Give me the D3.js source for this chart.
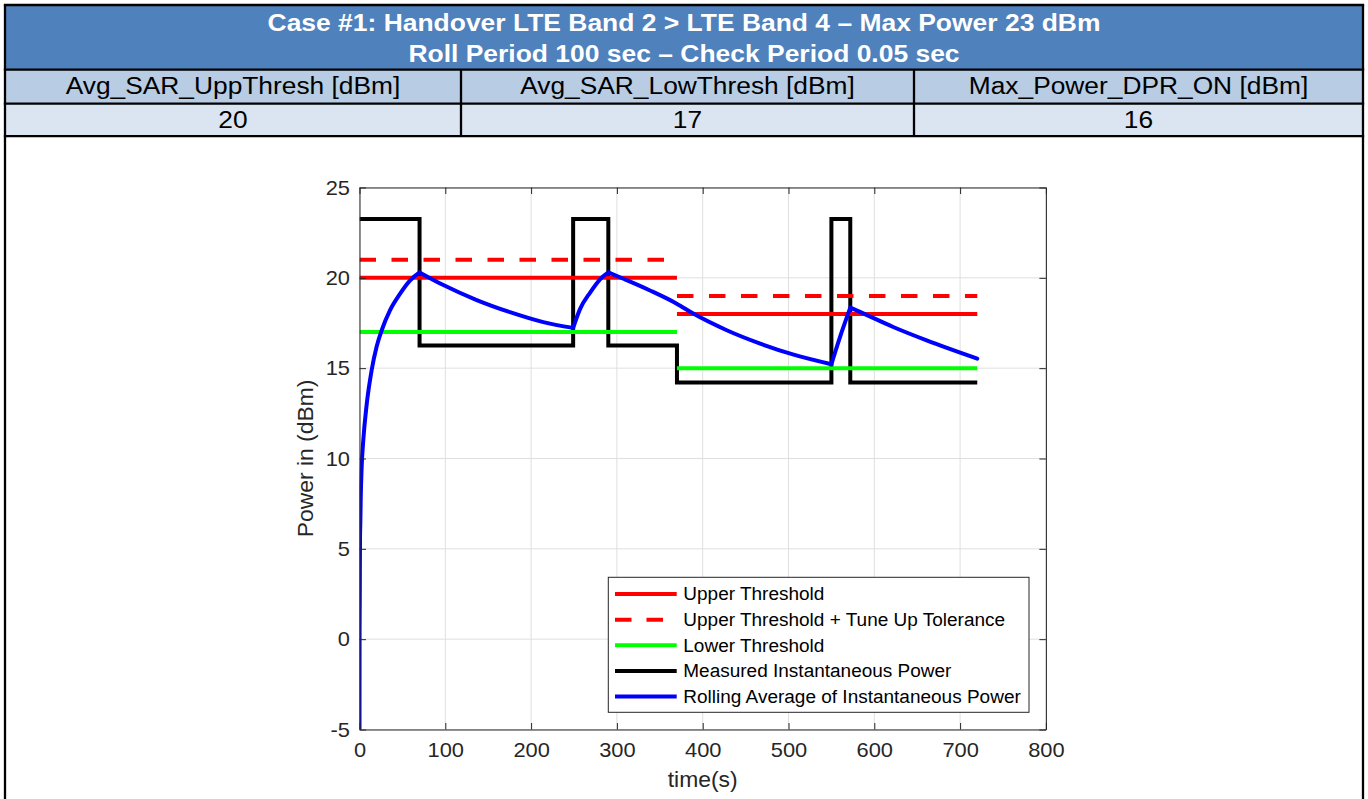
<!DOCTYPE html>
<html><head><meta charset="utf-8">
<script src="https://cdn.jsdelivr.net/npm/d3@7"></script>
<style>html,body{margin:0;padding:0;background:#fff;overflow:hidden}</style>
</head><body>
<svg id="c" width="1368" height="799"></svg>
<script>
// ---------- data ----------
const titleLines = ["Case #1: Handover LTE Band 2 > LTE Band 4 \u2013 Max Power 23 dBm",
                    "Roll Period 100 sec \u2013 Check Period 0.05 sec"];
const paramNames = ["Avg_SAR_UppThresh [dBm]", "Avg_SAR_LowThresh [dBm]", "Max_Power_DPR_ON [dBm]"];
const paramValues = ["20", "17", "16"];

const thrStart = [0, 370];
const thrEnd = [370, 720];
const upperThr = [20, 18];
const tuneUpThr = [21, 19];
const lowerThr = [17, 15];

const stepTime  = [0, 70, 249, 290, 370, 550, 572, 720];
const stepPower = [23.25, 16.25, 23.25, 16.25, 14.2, 23.25, 14.2, 14.2];

const avgTime  = [0, 0.1, 0.3, 0.6, 1.0, 1.4, 2.5, 4.4, 8.4, 14.2, 20, 25.9, 35.5, 47, 59, 70,
                  97.7, 136.6, 175.4, 214.2, 249,
                  257, 269, 280.4, 290,
                  307.5, 338.6, 369.7, 389, 428, 467, 506, 550,
                  560, 572,
                  584, 622, 661, 720];
const avgPower = [-5, 0.5, 2, 5.5, 6.5, 7.7, 9.5, 11, 13, 14.9, 16.2, 17.1, 18.2, 19.1, 19.86, 20.3,
                  19.6, 18.77, 18.1, 17.55, 17.23,
                  18.27, 19.2, 19.92, 20.3,
                  19.95, 19.3, 18.57, 18.02, 17.1, 16.36, 15.75, 15.22,
                  16.72, 18.35,
                  18.1, 17.28, 16.54, 15.53];

const timeTicks  = [0, 100, 200, 300, 400, 500, 600, 700, 800];
const powerTicks = [-5, 0, 5, 10, 15, 20, 25];
const legendLabels = ["Upper Threshold", "Upper Threshold + Tune Up Tolerance", "Lower Threshold",
                      "Measured Instantaneous Power", "Rolling Average of Instantaneous Power"];

// ---------- helpers ----------
const svg = d3.select("#c");
const FONT = "'Liberation Sans', Arial, Helvetica, sans-serif";
function stretch(sel, f) {
  sel.each(function () {
    const w = this.getComputedTextLength();
    this.setAttribute("textLength", w * f);
    this.setAttribute("lengthAdjust", "spacingAndGlyphs");
  });
}

// ---------- table ----------
const colX = [5, 461, 914, 1363];
const rowY = [5, 69.7, 103.7, 136.2];
const tbl = svg.append("g");
tbl.append("rect").attr("x", colX[0]).attr("y", rowY[0]).attr("width", colX[3] - colX[0]).attr("height", rowY[1] - rowY[0]).attr("fill", "#4f81bd");
tbl.append("rect").attr("x", colX[0]).attr("y", rowY[1]).attr("width", colX[3] - colX[0]).attr("height", rowY[2] - rowY[1]).attr("fill", "#b8cce4");
tbl.append("rect").attr("x", colX[0]).attr("y", rowY[2]).attr("width", colX[3] - colX[0]).attr("height", rowY[3] - rowY[2]).attr("fill", "#dbe5f1");

const tt = tbl.selectAll("text.title").data(titleLines).join("text")
  .attr("x", (colX[0] + colX[3]) / 2).attr("y", (d, i) => 30.7 + i * 31)
  .attr("text-anchor", "middle").attr("font-family", FONT).attr("font-weight", "bold")
  .attr("font-size", 23.3).attr("fill", "#fff").text(d => d);
stretch(tt, 1.135);

const pn = tbl.selectAll("text.pn").data(paramNames).join("text")
  .attr("x", (d, i) => (colX[i] + colX[i + 1]) / 2).attr("y", 94.3)
  .attr("text-anchor", "middle").attr("font-family", FONT).attr("font-size", 23.3).attr("fill", "#000").text(d => d);
stretch(pn, 1.13);
const pv = tbl.selectAll("text.pv").data(paramValues).join("text")
  .attr("x", (d, i) => (colX[i] + colX[i + 1]) / 2).attr("y", 128.4)
  .attr("text-anchor", "middle").attr("font-family", FONT).attr("font-size", 23.3).attr("fill", "#000").text(d => d);
stretch(pv, 1.13);

// borders
const bw = 2.3;
rowY.forEach(yy => tbl.append("line").attr("x1", colX[0] - bw / 2).attr("x2", colX[3] + bw / 2).attr("y1", yy).attr("y2", yy).attr("stroke", "#000").attr("stroke-width", bw));
[colX[0], colX[3]].forEach(xx => tbl.append("line").attr("x1", xx).attr("x2", xx).attr("y1", rowY[0]).attr("y2", 800).attr("stroke", "#000").attr("stroke-width", bw));
[colX[1], colX[2]].forEach(xx => tbl.append("line").attr("x1", xx).attr("x2", xx).attr("y1", rowY[1]).attr("y2", rowY[3]).attr("stroke", "#000").attr("stroke-width", bw));

// ---------- chart ----------
const x = d3.scaleLinear().domain([0, 800]).range([359.5, 1045.9]);
const y = d3.scaleLinear().domain([-5, 25]).range([729.5, 187.5]);
const AX = "#262626";

const g = svg.append("g");
g.append("rect").attr("x", x(0)).attr("y", y(25)).attr("width", x(800) - x(0)).attr("height", y(-5) - y(25)).attr("fill", "#fff");

// grid
g.append("g").selectAll("line").data(timeTicks).join("line")
  .attr("x1", d => x(d)).attr("x2", d => x(d)).attr("y1", y(-5)).attr("y2", y(25))
  .attr("stroke", "#dfdfdf").attr("stroke-width", 1);
g.append("g").selectAll("line").data(powerTicks).join("line")
  .attr("y1", d => y(d)).attr("y2", d => y(d)).attr("x1", x(0)).attr("x2", x(800))
  .attr("stroke", "#dfdfdf").attr("stroke-width", 1);

// clip
svg.append("defs").append("clipPath").attr("id", "clip").append("rect")
  .attr("x", x(0)).attr("y", y(25)).attr("width", x(800) - x(0)).attr("height", y(-5) - y(25));
const plot = g.append("g").attr("clip-path", "url(#clip)");

// measured instantaneous power (black)
const stepLine = d3.line().x(d => x(d[0])).y(d => y(d[1])).curve(d3.curveStepAfter);
plot.append("path").datum(stepTime.map((t, i) => [t, stepPower[i]]))
  .attr("d", stepLine).attr("fill", "none").attr("stroke", "#000").attr("stroke-width", 4);

// thresholds
const segLine = d3.line().x(d => x(d[0])).y(d => y(d[1]));
function thr(values, color, dash) {
  values.forEach((v, i) => {
    plot.append("path").datum([[thrStart[i], v], [thrEnd[i], v]])
      .attr("d", segLine).attr("fill", "none").attr("stroke", color).attr("stroke-width", 4)
      .attr("stroke-dasharray", dash || null);
  });
}
thr(upperThr, "#ff0000");
thr(tuneUpThr, "#ff0000", "16.5,15.5");
thr(lowerThr, "#00ff00");

// rolling average (blue) - split into monotone pieces
const pts = avgTime.map((t, i) => [t, avgPower[i]]);
const segs = [];
let cur = [pts[0]];
for (let i = 1; i < pts.length; i++) {
  cur.push(pts[i]);
  if (i < pts.length - 1) {
    const s1 = Math.sign(pts[i][1] - pts[i - 1][1]);
    const s2 = Math.sign(pts[i + 1][1] - pts[i][1]);
    if (s1 !== s2) { segs.push(cur); cur = [pts[i]]; }
  }
}
segs.push(cur);
const smooth = d3.line().x(d => x(d[0])).y(d => y(d[1])).curve(d3.curveMonotoneX);
plot.append("path").attr("d", segs.map(s => smooth(s)).join(""))
  .attr("fill", "none").attr("stroke", "#0000ff").attr("stroke-width", 4)
  .attr("stroke-linecap", "round").attr("stroke-linejoin", "round");

// axes
function styleAxis(sel) {
  sel.select(".domain").attr("stroke", AX).attr("stroke-width", 1);
  sel.selectAll(".tick line").attr("stroke", AX).attr("stroke-width", 1);
  sel.selectAll(".tick text").attr("fill", AX).attr("font-family", FONT).attr("font-size", 21);
}
const fmt = d => String(d);
const xb = g.append("g").attr("transform", `translate(0,${y(-5)})`)
  .call(d3.axisBottom(x).tickValues(timeTicks).tickSizeInner(-6.5).tickSizeOuter(0).tickPadding(12.5).tickFormat(fmt));
styleAxis(xb);
const xt = g.append("g").attr("transform", `translate(0,${y(25)})`)
  .call(d3.axisTop(x).tickValues(timeTicks).tickSizeInner(-6.5).tickSizeOuter(0).tickFormat(""));
styleAxis(xt);
const yl = g.append("g").attr("transform", `translate(${x(0)},0)`)
  .call(d3.axisLeft(y).tickValues(powerTicks).tickSizeInner(-6.5).tickSizeOuter(0).tickPadding(9.5).tickFormat(fmt));
styleAxis(yl);
const yr = g.append("g").attr("transform", `translate(${x(800)},0)`)
  .call(d3.axisRight(y).tickValues(powerTicks).tickSizeInner(-6.5).tickSizeOuter(0).tickFormat(""));
styleAxis(yr);
stretch(xb.selectAll(".tick text"), 1.04);
stretch(yl.selectAll(".tick text"), 1.04);

// axis labels
const xlab = g.append("text").attr("x", (x(0) + x(800)) / 2).attr("y", 787)
  .attr("text-anchor", "middle").attr("font-family", FONT).attr("font-size", 22).attr("fill", AX).text("time(s)");
stretch(xlab, 1.04);
const ylab = g.append("text").attr("transform", `translate(313,${(y(-5) + y(25)) / 2}) rotate(-90)`)
  .attr("text-anchor", "middle").attr("font-family", FONT).attr("font-size", 22).attr("fill", AX).text("Power in (dBm)");
stretch(ylab, 1.04);

// legend
const lg = g.append("g");
lg.append("rect").attr("x", 608.3).attr("y", 577.3).attr("width", 420.7).attr("height", 135)
  .attr("fill", "#fff").attr("stroke", AX).attr("stroke-width", 1);
const legStyles = [
  { c: "#ff0000", d: null }, { c: "#ff0000", d: "16.5,15" }, { c: "#00ff00", d: null },
  { c: "#000000", d: null }, { c: "#0000ff", d: null }];
legendLabels.forEach((lab, i) => {
  const cy = 594 + i * 25.65;
  lg.append("line").attr("x1", 615).attr("x2", 676.7).attr("y1", cy).attr("y2", cy)
    .attr("stroke", legStyles[i].c).attr("stroke-width", 4).attr("stroke-dasharray", legStyles[i].d);
  const t = lg.append("text").attr("x", 683.3).attr("y", cy + 6.4)
    .attr("font-family", FONT).attr("font-size", 18).attr("fill", "#000").text(lab);
  stretch(t, 1.055);
});
</script>
</body></html>
